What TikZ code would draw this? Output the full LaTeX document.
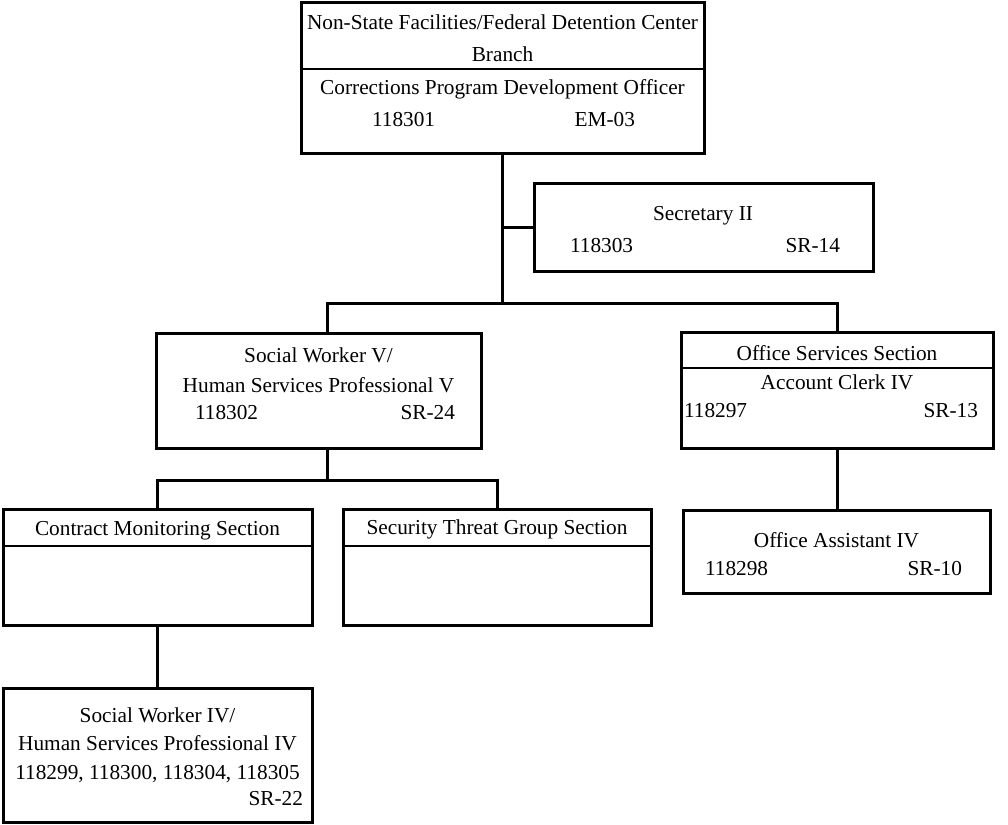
\documentclass[tikz,border=0pt]{standalone}
\usepackage{fontspec}
\setmainfont{Liberation Serif}
\begin{document}
\begin{tikzpicture}[x=1pt,y=-1pt,
  box/.style={draw, line width=3pt, inner sep=0pt, outer sep=0pt, minimum width=#1},
  conn/.style={line width=3pt, line cap=rect},
  divline/.style={line width=2.6pt},
  lbl/.style={inner sep=0pt, outer sep=0pt, font=\fontsize{21.3}{26}\selectfont},
  lblc/.style={lbl, anchor=base},
  lbll/.style={lbl, anchor=base west},
  lblr/.style={lbl, anchor=base east}]
\useasboundingbox (0,0) rectangle (1008,824);
% boxes
\node[box=403pt, minimum height=150pt] (T) at (502.5,78) {};
\node[box=339pt, minimum height=88pt] (S) at (703.5,227) {};
\node[box=325pt, minimum height=115pt] (SW5) at (318.5,390.5) {};
\node[box=312pt, minimum height=116pt] (OS) at (837,390) {};
\node[box=307pt, minimum height=83pt] (OA) at (836.5,551.5) {};
\node[box=309pt, minimum height=116pt] (CM) at (157.5,567) {};
\node[box=308pt, minimum height=116pt] (ST) at (497,567) {};
\node[box=309pt, minimum height=134pt] (SW4) at (157.5,755) {};
% header dividers
\coordinate (dT) at (0,69);
\coordinate (dOS) at (0,368);
\coordinate (dCM) at (0,546);
\draw[divline] (T.west |- dT) -- (T.east |- dT);
\draw[divline] (OS.west |- dOS) -- (OS.east |- dOS);
\draw[divline] (CM.west |- dCM) -- (CM.east |- dCM);
\draw[divline] (ST.west |- dCM) -- (ST.east |- dCM);
% connectors
\coordinate (j1) at (502.5,303);
\coordinate (b1) at (327,303);
\coordinate (b2) at (327,480);
\draw[conn] (T.south) -- (j1);
\draw[conn] (T.south |- S.west) -- (S.west);
\draw[conn] (b1 |- SW5.north) -- (b1) -| (OS.north);
\draw[conn] (b2 |- SW5.south) -- (b2);
\draw[conn] (CM.north) |- (b2) -| (ST.north);
\draw[conn] (OS.south) -- (OS.south |- OA.north);
\draw[conn] (CM.south) -- (SW4.north);
% texts: top
\node[lblc] (t1) at (502.5,30) {Non-State Facilities/Federal Detention Center};
\node[lblc] (t2) at (502.5,62) {Branch};
\node[lblc] (t3) at (502.5,95) {Corrections Program Development Officer};
\node[lbll] (t4) at (372,127) {118301};
\node[lblr] (t5) at (635,127) {EM-03};
% secretary
\node[lblc] (s1) at (703,220) {Secretary II};
\node[lbll] (s2) at (570,252) {118303};
\node[lblr] (s3) at (840,252) {SR-14};
% social worker V
\node[lblc] (w1) at (318.5,362) {Social Worker V/};
\node[lblc] (w2) at (318.5,392) {Human Services Professional V};
\node[lbll] (w3) at (195,419) {118302};
\node[lblr] (w4) at (455,419) {SR-24};
% office services
\node[lblc] (o1) at (837,360) {Office Services Section};
\node[lblc] (o2) at (837,389) {Account Clerk IV};
\node[lbll] (o3) at (684,417) {118297};
\node[lblr] (o4) at (978,417) {SR-13};
% office assistant
\node[lblc] (a1) at (836.5,547) {Office Assistant IV};
\node[lbll] (a2) at (705,575) {118298};
\node[lblr] (a3) at (962,575) {SR-10};
% sections
\node[lblc] (c1) at (157.5,535) {Contract Monitoring Section};
\node[lblc] (g1) at (497,534) {Security Threat Group Section};
% social worker IV
\node[lblc] (v1) at (157.5,722) {Social Worker IV/};
\node[lblc] (v2) at (157.5,750) {Human Services Professional IV};
\node[lblc] (v3) at (157.5,779) {118299, 118300, 118304, 118305};
\node[lblr] (v4) at (303,805) {SR-22};
\end{tikzpicture}
\end{document}
